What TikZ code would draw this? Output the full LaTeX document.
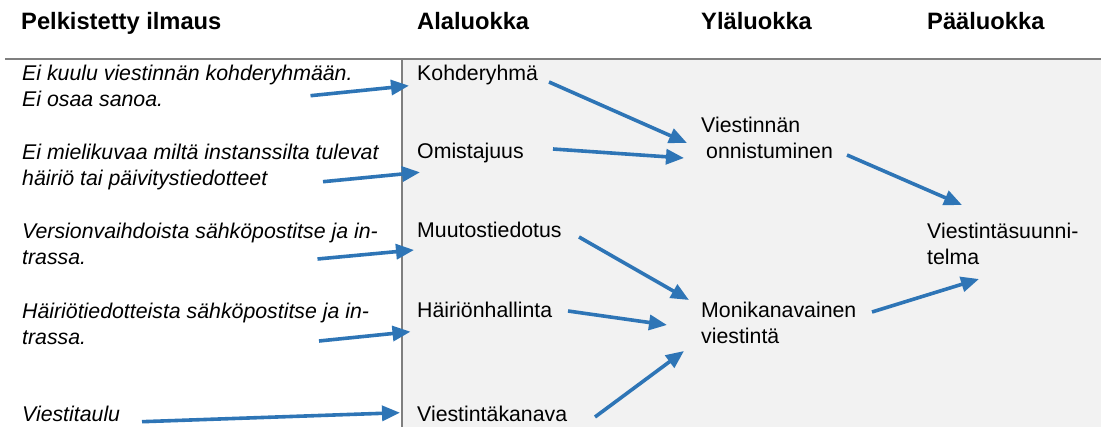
\documentclass[tikz,border=0pt]{standalone}
\usepackage{fontspec}
\setmainfont{Liberation Sans}
\usetikzlibrary{arrows.meta}
\definecolor{flowblue}{HTML}{2E75B6}
\definecolor{panelgray}{HTML}{F2F2F2}
\definecolor{rulegray}{HTML}{7F7F7F}
\tikzset{
  head/.style={font=\fontsize{23.7}{28}\selectfont\bfseries, anchor=base west, inner sep=0pt},
  quote/.style={font=\fontsize{21.3}{26.7}\selectfont\itshape, anchor=base west, inner sep=0pt, align=left},
  cat/.style={font=\fontsize{21.3}{26.7}\selectfont, anchor=base west, inner sep=0pt, align=left},
  flow/.style={draw=flowblue, line width=3.6pt, -{Triangle[length=18pt,width=15pt]}},
  rule/.style={draw=rulegray, line width=2pt}
}
\begin{document}
\begin{tikzpicture}[x=1pt,y=-1pt]
\useasboundingbox (0,0) rectangle (1101,427);
% shaded category area and table rules
\fill[panelgray] (402,59) rectangle (1101,427);
\draw[rule] (5,59) -- (1101,59);
\draw[rule] (402,59) -- (402,427);

% column headings
\node[head] (h1) at (21,30) {Pelkistetty ilmaus};
\node[head] (h2) at (417,30) {Alaluokka};
\node[head] (h3) at (701,30) {Yläluokka};
\node[head] (h4) at (927,30) {Pääluokka};

% simplified expressions (base anchor sits on the last line)
\node[quote] (q1) at (22,107) {Ei kuulu viestinnän kohderyhmään.\\Ei osaa sanoa.};
\node[quote] (q2) at (22,186) {Ei mielikuvaa miltä instanssilta tulevat\\häiriö tai päivitystiedotteet};
\node[quote] (q3) at (22,265) {Versionvaihdoista sähköpostitse ja in-\\trassa.};
\node[quote] (q4) at (22,345) {Häiriötiedotteista sähköpostitse ja in-\\trassa.};
\node[quote] (q5) at (22,422) {Viestitaulu};

% subcategories
\node[cat] (c1) at (417,81) {Kohderyhmä};
\node[cat] (c2) at (417,159) {Omistajuus};
\node[cat] (c3) at (417,238) {Muutostiedotus};
\node[cat] (c4) at (417,318) {Häiriönhallinta};
\node[cat] (c5) at (417,422) {Viestintäkanava};

% upper categories
\node[cat] (u1) at (701,159) {Viestinnän\\\hspace*{5pt}onnistuminen};
\node[cat] (u2) at (701,344) {Monikanavainen\\viestintä};

% main category
\node[cat] (m1) at (927,265) {Viestintäsuunni-\\telma};

% arrow end points
\coordinate (q1s) at (310.5,95.7);  \coordinate (c1t) at (409,85.7);
\coordinate (q2s) at (323,181.7);   \coordinate (c2t) at (420,172.3);
\coordinate (q3s) at (317.5,259);   \coordinate (c3t) at (414,250);
\coordinate (q4s) at (319,341);     \coordinate (c4t) at (410.5,331.7);
\coordinate (q5s) at (142,421.7);   \coordinate (c5t) at (400,412.7);
\coordinate (c1s) at (549,82);      \coordinate (u1a) at (687,143);
\coordinate (c2s) at (553,149);     \coordinate (u1b) at (684,158);
\coordinate (c3s) at (579,237);     \coordinate (u2a) at (689,300);
\coordinate (c4s) at (568,311);     \coordinate (u2b) at (667,325);
\coordinate (c5s) at (595,417);     \coordinate (u2c) at (684,351);
\coordinate (u1s) at (847,155);     \coordinate (m1a) at (962,205);
\coordinate (u2s) at (872,312);     \coordinate (m1b) at (979,279);

% connectors
\draw[flow] (q1s) -- (c1t);
\draw[flow] (q2s) -- (c2t);
\draw[flow] (q3s) -- (c3t);
\draw[flow] (q4s) -- (c4t);
\draw[flow] (q5s) -- (c5t);
\draw[flow] (c1s) -- (u1a);
\draw[flow] (c2s) -- (u1b);
\draw[flow] (c3s) -- (u2a);
\draw[flow] (c4s) -- (u2b);
\draw[flow] (c5s) -- (u2c);
\draw[flow] (u1s) -- (m1a);
\draw[flow] (u2s) -- (m1b);
\end{tikzpicture}
\end{document}
